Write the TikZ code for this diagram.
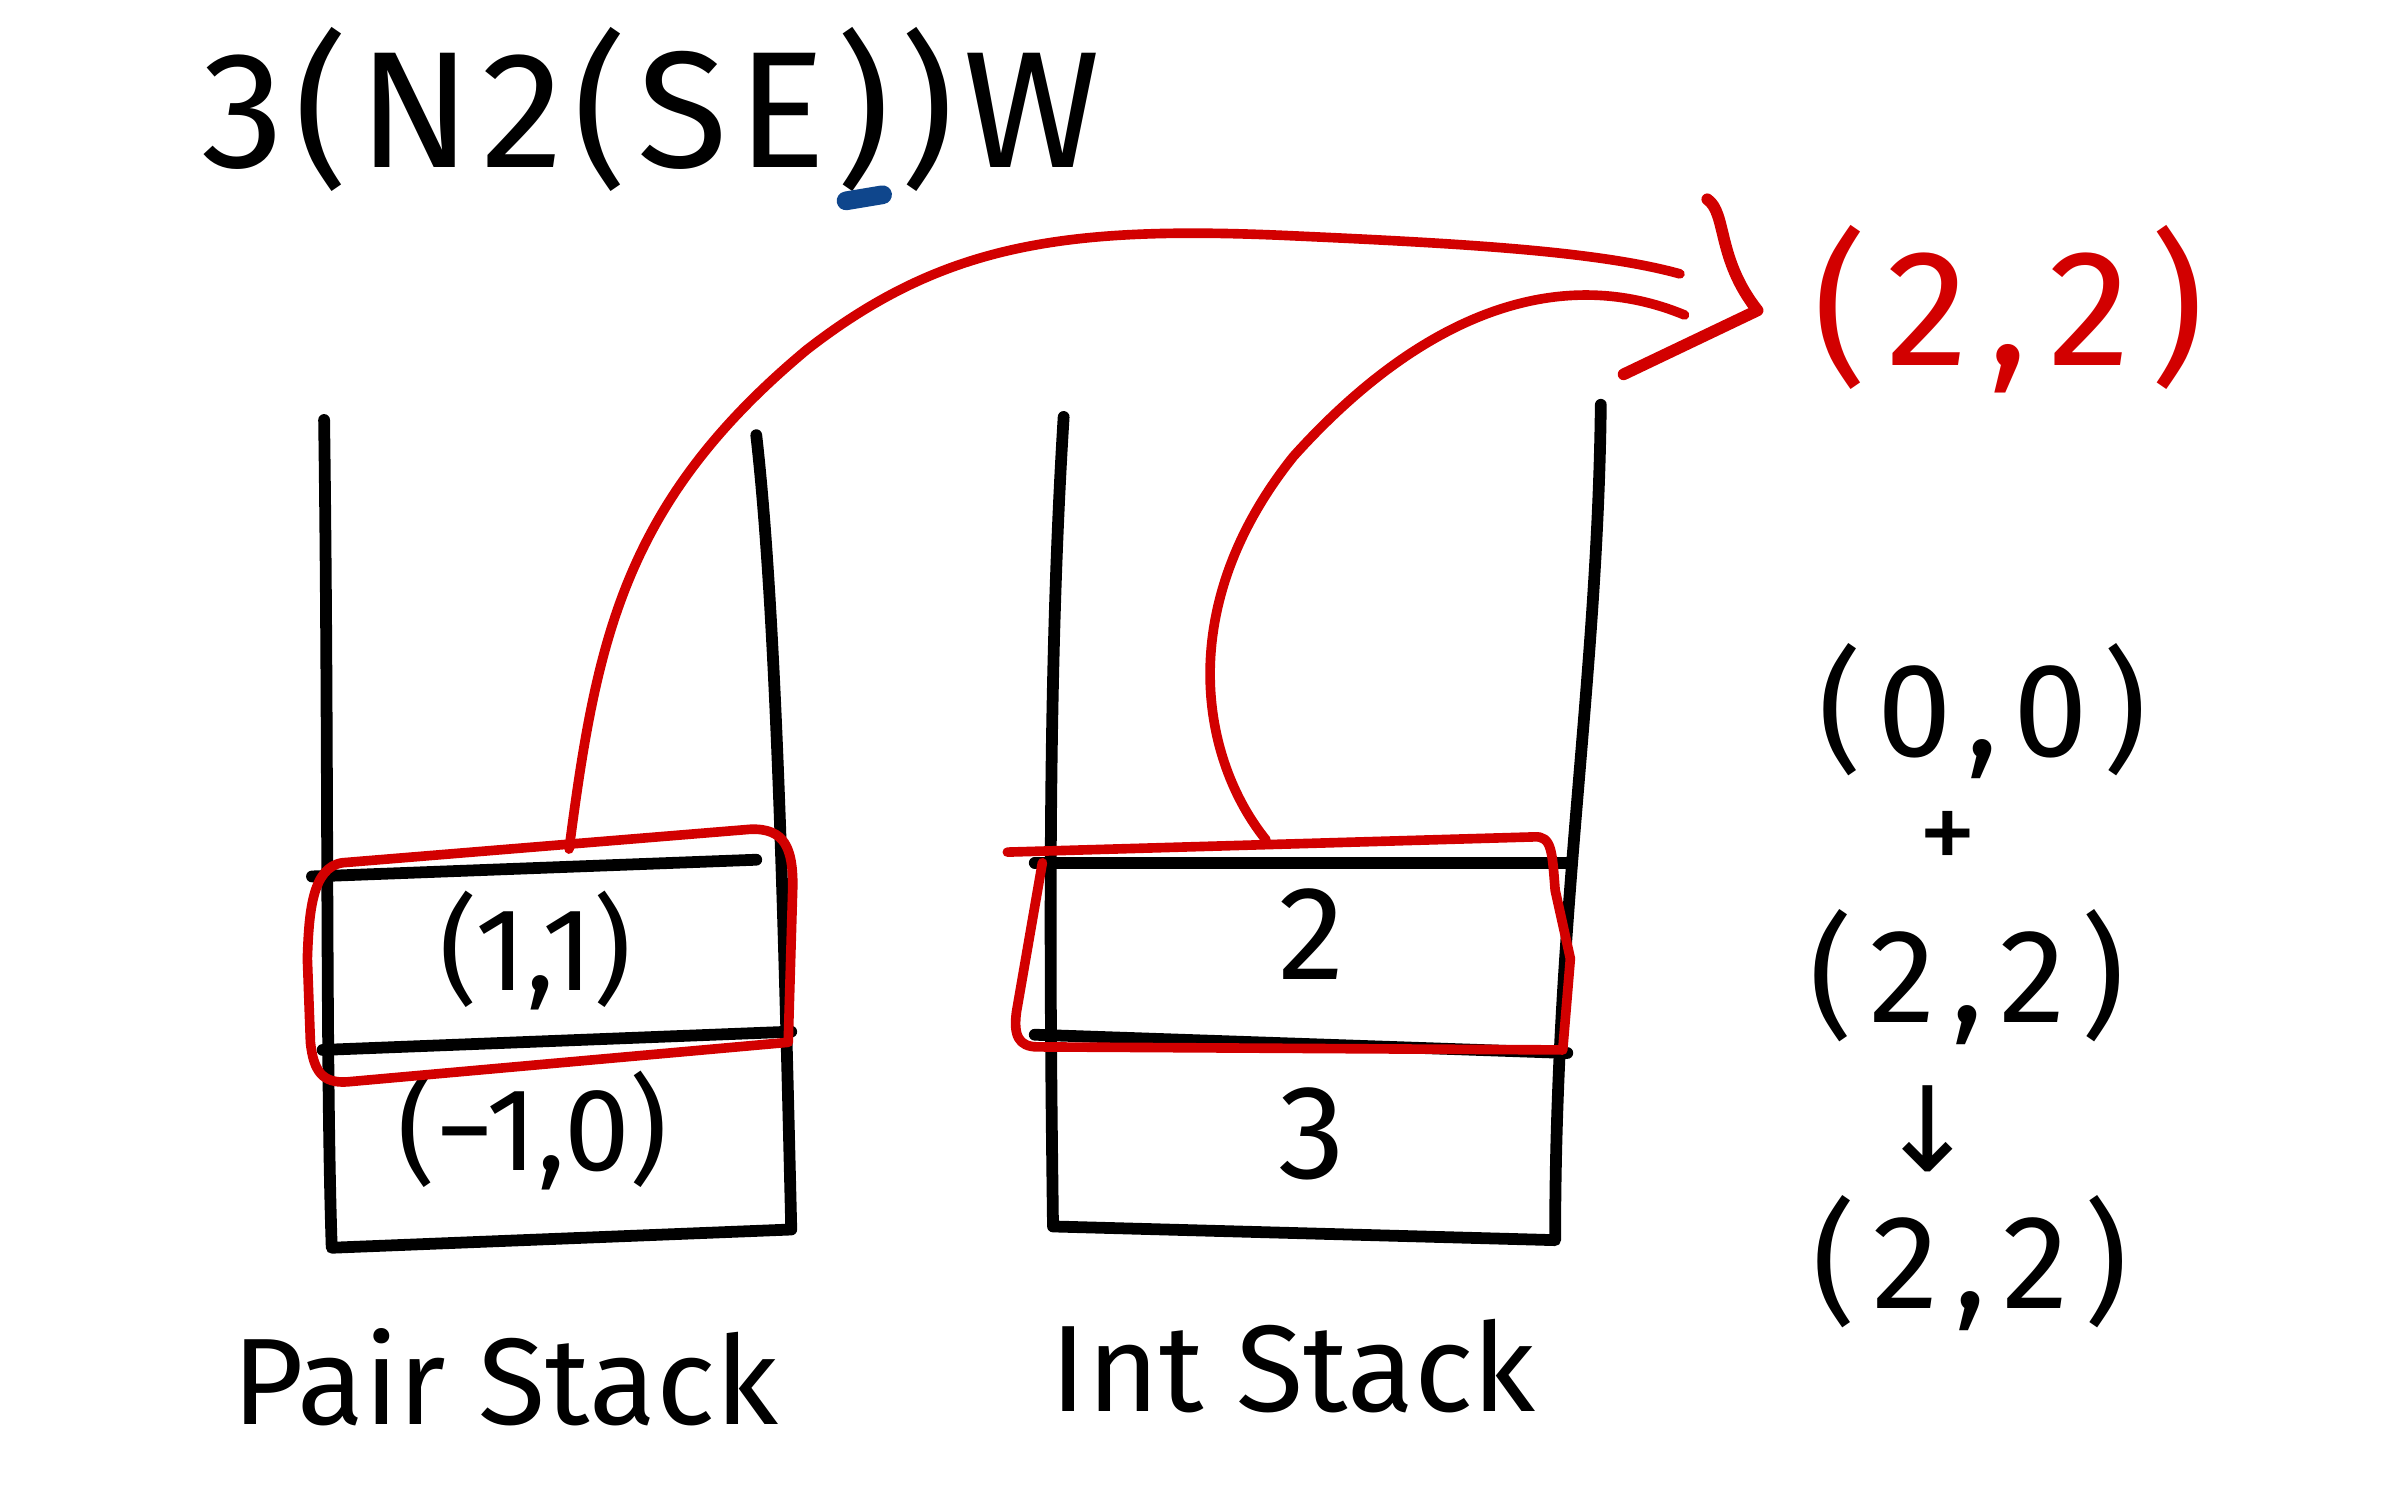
\documentclass[tikz,border=0pt]{standalone}
\usepackage{fontspec}
\setmainfont{Fira Sans}
\newfontfamily\symfont{DejaVu Sans}
\begin{document}
\begin{tikzpicture}[x=0.01cm,y=-0.01cm,
  wall/.style={line width=2.2pt,line cap=round,line join=round,black},
  redline/.style={line width=1.8pt,line cap=round,line join=round,draw={rgb,255:red,210;green,0;blue,0}},
  hand/.style={inner sep=0pt,font=\fontsize{22}{26}\selectfont},
  mid/.style={inner sep=0pt,font=\fontsize{25}{28}\selectfont},
  wide/.style={inner sep=0pt,font=\fontsize{25}{28}\selectfont\addfontfeature{LetterSpace=12}},
  big/.style={inner sep=0pt,font=\fontsize{31}{36}\selectfont},
  lab/.style={inner sep=0pt,font=\fontsize{23}{26}\selectfont}]
\definecolor{myred}{RGB}{210,0,0}
\definecolor{myblue}{RGB}{15,70,140}
\useasboundingbox (0,0) rectangle (1568,980);
% title
\node[big,font=\fontsize{31}{36}\selectfont\addfontfeature{LetterSpace=6}] (title) at (428,72) {3(N2(SE))W};
\coordinate (u1) at (556,132);
\coordinate (u2) at (580,128);
\draw[myblue,line width=3.5pt,line cap=round] (u1) -- (u2);
% pair stack
\coordinate (pl1) at (213,276);
\coordinate (pl2) at (218,820);
\coordinate (pr1) at (497,286);
\coordinate (pr2) at (520,808);
\draw[wall] (pl1) .. controls (216,500) and (214,700) .. (pl2) -- (pr2) .. controls (515,600) and (510,400) .. (pr1);
\coordinate (ph1a) at (205,576);
\coordinate (ph1b) at (497,565);
\draw[wall] (ph1a) -- (ph1b);
\coordinate (ph2a) at (212,690);
\coordinate (ph2b) at (520,678);
\draw[wall] (ph2a) -- (ph2b);
\node[hand] (p1) at (352,625) {(1,1)};
\node[hand] (p2) at (350,743) {(−1,0)};
\node[lab] (plab) at (332,905) {Pair Stack};
% int stack
\coordinate (il1) at (699,274);
\coordinate (il2) at (692,806);
\coordinate (ir1) at (1052,266);
\coordinate (ir2) at (1022,815);
\draw[wall] (il1) .. controls (688,450) and (690,650) .. (il2) -- (ir2) .. controls (1022,600) and (1050,450) .. (ir1);
\coordinate (ih1a) at (680,567);
\coordinate (ih1b) at (1030,567);
\draw[wall] (ih1a) -- (ih1b);
\coordinate (ih2a) at (680,680);
\coordinate (ih2b) at (1030,692);
\draw[wall] (ih2a) -- (ih2b);
\node[mid] (i1) at (862,614) {2};
\node[mid] (i2) at (862,745) {3};
\node[lab] (ilab) at (850,898) {Int Stack};
% red boxes
\draw[redline] (225,567) -- (493,545) .. controls (516,544) and (521,558) .. (521,582) -- (518,685) -- (228,711) .. controls (212,712) and (206,704) .. (204,685) -- (202,630) .. controls (203,600) and (205,570) .. (225,567) -- cycle;
\draw[redline] (662,560) -- (1008,550) .. controls (1020,549) and (1020,560) .. (1022,585) -- (1032,630) -- (1027,690) -- (682,688) .. controls (669,688) and (666,680) .. (668,665) -- (685,567);
\coordinate (pbox) at (374,558);
\coordinate (ibox) at (832,552);
% result
\node[big,text=myred,font=\fontsize{31}{36}\selectfont\addfontfeature{LetterSpace=12}] (res) at (1320,203) {(2,2)};
\coordinate (e1) at (1104,180);
\coordinate (e2) at (1107,207);
\draw[redline] (pbox) .. controls (392,420) and (410,330) .. (530,230) .. controls (620,160) and (700,148) .. (850,155) .. controls (960,160) and (1050,165) .. (e1);
\draw[redline] (ibox) .. controls (790,500) and (770,400) .. (850,300) .. controls (940,200) and (1030,175) .. (e2);
\coordinate (h1) at (1122,131);
\coordinate (h2) at (1155,204);
\coordinate (h3) at (1067,246);
\draw[redline,line width=2.2pt] (h1) .. controls (1135,140) and (1128,170) .. (h2) -- (h3);
% right column
\node[wide] (r1) at (1303,467) {(0,0)};
\node[hand] (r2) at (1280,553) {+};
\node[wide] (r3) at (1293,642) {(2,2)};
\node[hand,font=\symfont\fontsize{22}{26}\selectfont] (r4) at (1267,742) {↓};
\node[wide] (r5) at (1295,830) {(2,2)};
\end{tikzpicture}
\end{document}
